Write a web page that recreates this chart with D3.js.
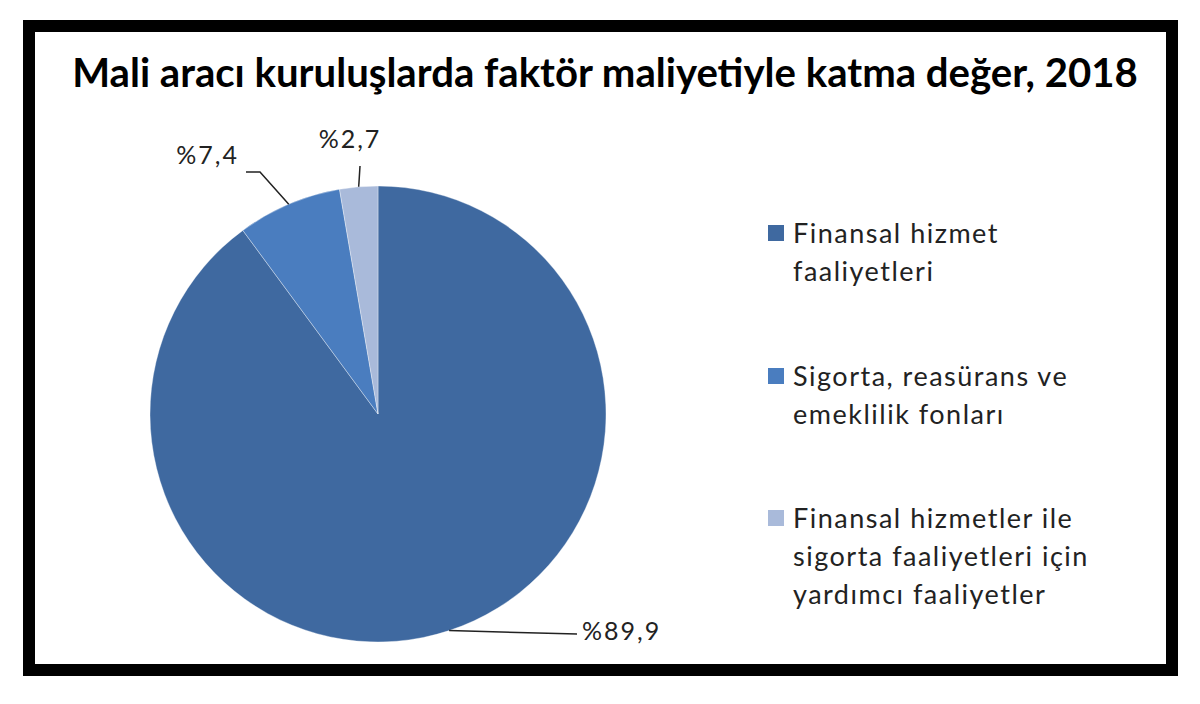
<!DOCTYPE html>
<html>
<head>
<meta charset="utf-8">
<script src="https://cdn.jsdelivr.net/npm/d3@7"></script>
<style>
  body { margin: 0; background: #fff; }
  text { font-family: Lato, "Open Sans", sans-serif; fill: #222; }
</style>
</head>
<body>
<div id="chart"></div>
<script>
// data
const title = "Mali aracı kuruluşlarda faktör maliyetiyle katma değer, 2018";
const categories = [
  ["Finansal hizmet", "faaliyetleri"],
  ["Sigorta, reasürans ve", "emeklilik fonları"],
  ["Finansal hizmetler ile", "sigorta faaliyetleri için", "yardımcı faaliyetler"]
];
const values = [89.9, 7.4, 2.7];
const valueLabels = ["%89,9", "%7,4", "%2,7"];
const colors = ["#3f69a0", "#4a7dbf", "#a9bada"];

const W = 1200, H = 704;
const svg = d3.select("#chart").append("svg")
    .attr("width", W).attr("height", H);

// frame
svg.append("rect")
    .attr("x", 29).attr("y", 26)
    .attr("width", 1143).attr("height", 644)
    .attr("fill", "#fff")
    .attr("stroke", "#000")
    .attr("stroke-width", 12);

// title, squeezed to the width it has in the picture
const t = svg.append("text")
    .attr("x", 605).attr("y", 87)
    .attr("text-anchor", "middle")
    .attr("font-weight", "bold")
    .attr("font-size", 36)
    .style("fill", "#000")
    .text(title);
const tw = t.node().getComputedTextLength();
t.attr("font-size", 36 * 1066 / tw);

// pie
const cx = 378, cy = 414, r = 228;
const pie = d3.pie().sort(null).value(d => d);
const arcs = pie(values);
const arc = d3.arc().innerRadius(0).outerRadius(r);
const edge = d3.arc().innerRadius(r).outerRadius(r);

const g = svg.append("g").attr("transform", `translate(${cx},${cy})`);
g.selectAll("path.slice")
  .data(arcs)
  .enter().append("path")
    .attr("class", "slice")
    .attr("d", arc)
    .attr("fill", (d, i) => colors[i])
    .attr("stroke", "rgba(255,255,255,0.35)")
    .attr("stroke-width", 1);

// data labels with leader lines (hand-placed as in the original)
const labelLayout = [
  { pts: [[199, 220]], tx: 204, ty: 226, anchor: "start" },
  { pts: [[-118, -242], [-132, -242]], tx: -139, ty: -250, anchor: "end" },
  { pts: [[-18, -248]], tx: -28, ty: -266, anchor: "middle" }
];

arcs.forEach((d, i) => {
  const L = labelLayout[i];
  const start = edge.centroid(d);
  g.append("path")
    .attr("d", d3.line()([start, ...L.pts]))
    .attr("fill", "none")
    .attr("stroke", "#222")
    .attr("stroke-width", 1.5);
  g.append("text")
    .attr("x", L.tx).attr("y", L.ty)
    .attr("text-anchor", L.anchor)
    .attr("font-size", 25)
    .attr("letter-spacing", 2)
    .text(valueLabels[i]);
});

// legend
const legendTops = [243, 386, 528];
const lineH = 38;
const lg = svg.append("g");
categories.forEach((lines, i) => {
  lg.append("rect")
    .attr("x", 768).attr("y", legendTops[i] - 18)
    .attr("width", 16).attr("height", 16)
    .attr("fill", colors[i]);
  const txt = lg.append("text")
    .attr("x", 793).attr("y", legendTops[i])
    .attr("font-size", 27)
    .attr("letter-spacing", 1.5);
  lines.forEach((s, j) => {
    txt.append("tspan")
      .attr("x", 793)
      .attr("dy", j ? lineH : 0)
      .text(s);
  });
});
</script>
</body>
</html>
